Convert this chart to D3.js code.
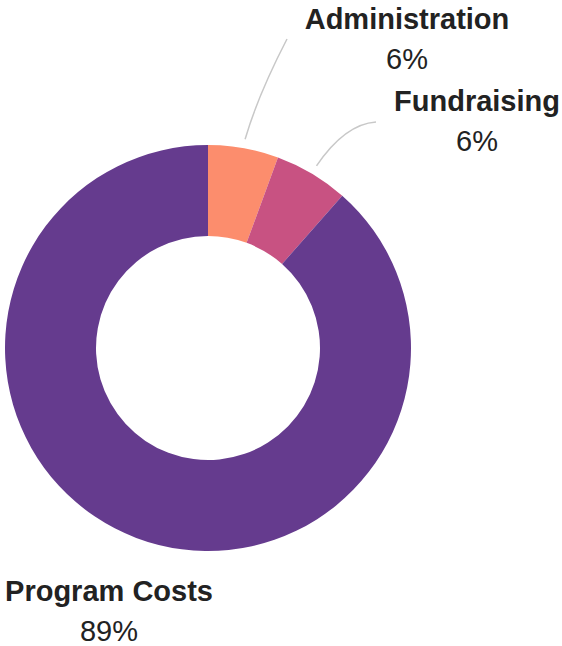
<!DOCTYPE html>
<html>
<head>
<meta charset="utf-8">
<script src="https://cdn.jsdelivr.net/npm/d3@7"></script>
<style>
  html, body { margin: 0; padding: 0; background: #fff; }
  text { font-family: "Liberation Sans", Arial, sans-serif; fill: #222; }
</style>
</head>
<body>
<main></main>
<script>
const categories = ["Administration", "Fundraising", "Program Costs"];
const shares = [5.6, 5.9, 88.5];
const colors = ["#fc8d6d", "#c85282", "#653b8e"];

// label placement (x, y of label centre line; leader-line end and control)
const labelLayout = [
  { x: 407, y: 29, leader: true, end: [287, 39], ctrl: [258, 95] },
  { x: 477, y: 111, leader: true, end: [376, 122], ctrl: [345, 124] },
  { x: 109, y: 601, leader: false }
];

const w = 562;
const h = 646;
const cx = 208;
const cy = 348;
const outerR = 203;
const innerR = 112;

const data = categories.map((c, i) => ({ name: c, value: shares[i], color: colors[i], layout: labelLayout[i] }));

const svg = d3.select("main")
  .append("svg")
  .attr("width", w)
  .attr("height", h);

const pie = d3.pie()
  .sort(null)
  .value(d => d.value);

const arc = d3.arc()
  .innerRadius(innerR)
  .outerRadius(outerR);

const leaderArc = d3.arc()
  .innerRadius(outerR + 9)
  .outerRadius(outerR + 9);

const arcs = pie(data);

const g = svg.append("g")
  .attr("transform", `translate(${cx},${cy})`);

g.selectAll("path.slice")
  .data(arcs)
  .enter()
  .append("path")
  .attr("class", "slice")
  .attr("fill", d => d.data.color)
  .attr("d", arc);

// leader lines
svg.selectAll("path.leader")
  .data(arcs.filter(d => d.data.layout.leader))
  .enter()
  .append("path")
  .attr("class", "leader")
  .attr("fill", "none")
  .attr("stroke", "#c8c8c8")
  .attr("stroke-width", 1.5)
  .attr("d", d => {
    const [sx, sy] = leaderArc.centroid(d);
    const l = d.data.layout;
    const p = d3.path();
    p.moveTo(cx + sx, cy + sy);
    p.quadraticCurveTo(l.ctrl[0], l.ctrl[1], l.end[0], l.end[1]);
    return p.toString();
  });

// labels
const labels = svg.selectAll("g.label")
  .data(arcs)
  .enter()
  .append("g")
  .attr("class", "label")
  .attr("transform", d => `translate(${d.data.layout.x},${d.data.layout.y})`);

labels.append("text")
  .attr("text-anchor", "middle")
  .attr("font-size", 29)
  .attr("font-weight", "bold")
  .text(d => d.data.name);

labels.append("text")
  .attr("text-anchor", "middle")
  .attr("font-size", 29)
  .attr("y", 40)
  .attr("fill", "#333")
  .text(d => Math.round(d.data.value) + "%");
</script>
</body>
</html>
